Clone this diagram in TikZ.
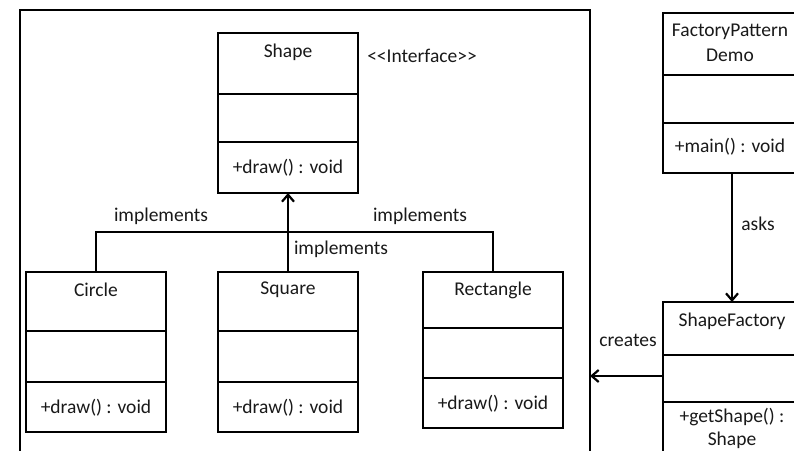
\documentclass[tikz,border=0pt]{standalone}
\usepackage{fontspec}
\setmainfont{Carlito}
\usetikzlibrary{arrows.meta}
\begin{document}
\begin{tikzpicture}[x=1pt,y=-1pt,
  box/.style={draw, line width=2pt, outer sep=0pt, inner sep=0pt, minimum width=140pt, minimum height=160pt},
  lbl/.style={font=\fontsize{19.5}{23}\selectfont, text=black!90, inner sep=0pt, align=center},
  conn/.style={line width=2pt},
  arr/.style={conn, -{Straight Barb[length=7pt,width=12pt,line width=2.2pt]}}]
\useasboundingbox (0,0) rectangle (794,450);
\clip (0,0) rectangle (794,450);
\fill[white] (0,0) rectangle (794,450);
% frame
\node[box, minimum width=570pt, minimum height=470pt] (frame) at (305,245) {};
% class boxes
\node[box] (shape) at (288,113) {};
\node[box] (circ) at (96,352) {};
\node[box] (sq) at (288,352) {};
\node[box, minimum height=156pt] (rect) at (493,350) {};
\node[box, minimum width=138pt] (demo) at (732,93) {};
\node[box, minimum width=138pt, minimum height=168pt] (fac) at (732,386) {};
% dividers
\foreach \n/\a/\b in {shape/94/142, circ/331/382, sq/331/382, rect/328/378, demo/75/123, fac/355/402}{
  \draw[conn] (\n.west |- 0,\a) -- (\n.east |- 0,\a);
  \draw[conn] (\n.west |- 0,\b) -- (\n.east |- 0,\b);
}
% texts in boxes
\node[lbl] (tshape) at (288,52) {Shape};
\node[lbl] (mshape) at (288,168) {+draw() : void};
\node[lbl] (iface) at (422,56) {<\kern0pt<Interface>\kern0pt>};
\node[lbl] (tcirc) at (96,290) {Circle};
\node[lbl] (mcirc) at (96,408) {+draw() : void};
\node[lbl] (tsq) at (288,290) {Square};
\node[lbl] (msq) at (288,408) {+draw() : void};
\node[lbl] (trect) at (493,290) {Rectangle};
\node[lbl] (mrect) at (493,404) {+draw() : void};
\node[lbl, font=\fontsize{19.5}{25}\selectfont] (tdemo) at (730,43) {FactoryPattern\\Demo};
\node[lbl] (mdemo) at (730,147) {+main() : void};
\node[lbl] (tfac) at (732,321) {ShapeFactory};
\node[lbl, font=\fontsize{19.5}{23}\selectfont] (mfac) at (732,428) {+getShape() :\\Shape};
% connectors
\coordinate (bus) at (288,232);
\draw[conn] (circ.north) |- (bus) -| (rect.north);
\draw[arr] (sq.north) -- (shape.south);
\draw[arr] (demo.south) -- (fac.north);
\coordinate (cr) at (0,376);
\draw[arr] (fac.west |- cr) -- (frame.east |- cr);
% connector labels
\node[lbl] (l1) at (161,216) {implements};
\node[lbl] (l2) at (420,216) {implements};
\node[lbl] (l3) at (341,249) {implements};
\node[lbl] (lasks) at (758,224) {asks};
\node[lbl] (lcr) at (628,340) {creates};
\end{tikzpicture}
\end{document}
